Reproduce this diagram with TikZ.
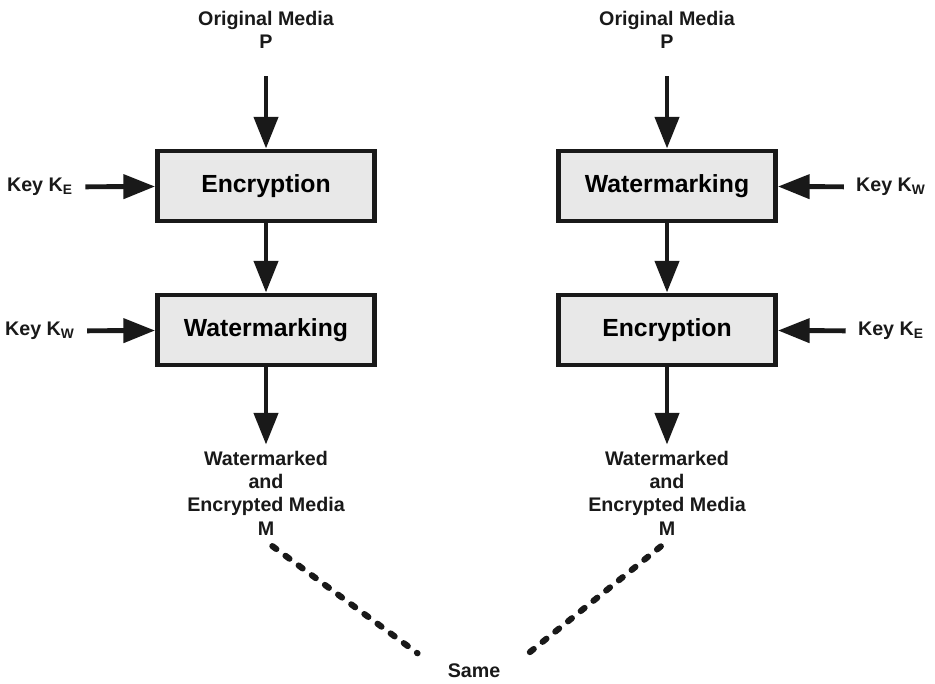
\documentclass[tikz,border=0pt]{standalone}
\usepackage{fontspec}
\setmainfont{Liberation Sans}
\usetikzlibrary{arrows.meta,positioning}
\definecolor{boxfill}{RGB}{232,232,232}
\definecolor{inkblack}{RGB}{25,25,25}

\begin{document}
\begin{tikzpicture}[x=0.02cm,y=-0.02cm]
  \tikzstyle{procbox}=[rectangle,draw=inkblack,line width=2.8pt,fill=boxfill,minimum width=4.34cm,minimum height=1.4cm,font=\fontsize{14.1}{17}\selectfont\bfseries]
  \tikzstyle{lbl}=[align=center,text=inkblack,font=\fontsize{11.2}{13.3}\selectfont\bfseries]
  \tikzstyle{flow}=[draw=inkblack,line width=2.8pt,-{Triangle[length=18pt,width=13.5pt]}]
  \tikzstyle{samelink}=[draw=inkblack,line width=3.5pt,line cap=round,dash pattern=on 2.8pt off 6.5pt]
  \useasboundingbox (0,0) rectangle (935,683);
  \node[lbl] (origL) at (266,30) {Original Media\\P};
  \node[procbox] (encL) at (266,186) {Encryption};
  \node[procbox] (wmkL) at (266,330) {Watermarking};
  \node[lbl] (outL) at (266,493) {Watermarked\\and\\Encrypted Media\\M};
  \node[lbl] (keyEL) at (40,187) {Key K\textsubscript{E}};
  \node[lbl] (keyWL) at (40,331) {Key K\textsubscript{W}};
  \node[lbl] (origR) at (667,30) {Original Media\\P};
  \node[procbox] (wmkR) at (667,186) {Watermarking};
  \node[procbox] (encR) at (667,330) {Encryption};
  \node[lbl] (outR) at (667,493) {Watermarked\\and\\Encrypted Media\\M};
  \node[lbl] (keyWR) at (891,187) {Key K\textsubscript{W}};
  \node[lbl] (keyER) at (891,331) {Key K\textsubscript{E}};
  \node[lbl] (same) at (474,671) {Same};
  \draw[flow,shorten <=12pt] (origL) -- (encL);
  \draw[flow] (encL) -- (wmkL);
  \draw[flow] (wmkL) -- (outL);
  \draw[flow,shorten <=3.5pt] (keyEL) -- (encL);
  \draw[flow,shorten <=3.5pt] (keyWL) -- (wmkL);
  \draw[flow,shorten <=12pt] (origR) -- (wmkR);
  \draw[flow] (wmkR) -- (encR);
  \draw[flow] (encR) -- (outR);
  \draw[flow,shorten <=3.5pt] (keyWR) -- (wmkR);
  \draw[flow,shorten <=3.5pt] (keyER) -- (encR);
  \draw[samelink,shorten <=4.5pt,shorten >=17pt] (outL.south) -- (same.west);
  \draw[samelink,shorten <=4.5pt,shorten >=17pt] (outR.south) -- (same.east);
\end{tikzpicture}
\end{document}
